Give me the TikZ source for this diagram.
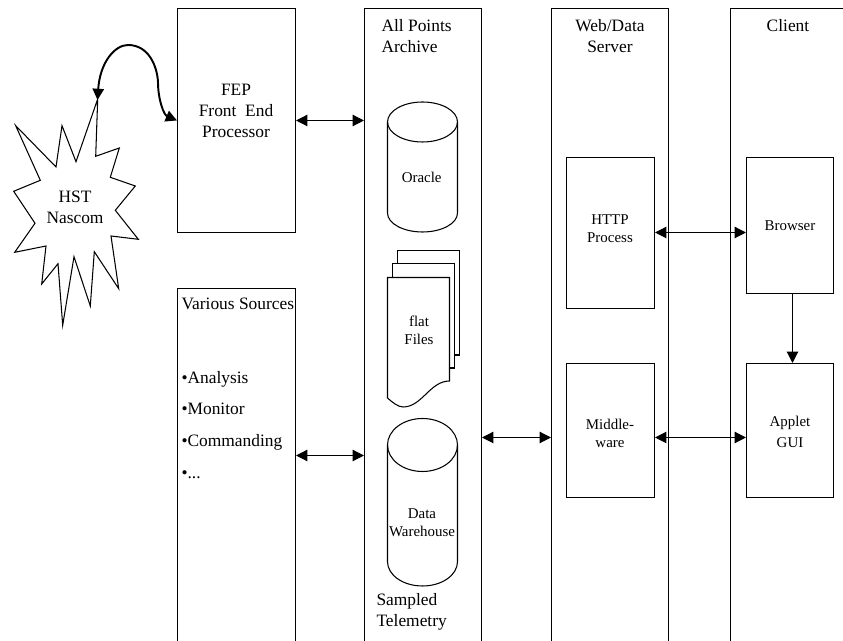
\documentclass[tikz,border=0pt]{standalone}
\usepackage{fontspec}
\setmainfont{Liberation Serif}
\usetikzlibrary{arrows.meta}
\begin{document}
\begin{tikzpicture}[
    x = 0.02cm,
    y = -0.02cm,
    line width = 0.6pt,
    box/.style = {
        rectangle,
        draw = black,
        inner sep = 0pt
    },
    bigtext/.style = {
        align = center,
        inner sep = 0pt,
        font = \fontsize{9.9}{11.9}\selectfont
    },
    smalltext/.style = {
        align = center,
        inner sep = 0pt,
        font = \fontsize{8.5}{10.3}\selectfont
    },
    arrow/.style = {
        <->,
        >={Triangle[length=6.4pt,width=6.4pt]},
        line width = 0.7pt
    }
]
    \useasboundingbox (0,0) rectangle (843,641);

    % Nodes
    \node [box, minimum width = 2.36cm, minimum height = 4.48cm] (fep) at (236.5,120.5) {};
    \node [box, minimum width = 2.36cm, minimum height = 7.43cm] (various) at (236.5,474.25) {};
    \node [box, minimum width = 2.34cm, minimum height = 13.03cm] (archive) at (423,334.25) {};
    \node [box, minimum width = 2.34cm, minimum height = 13.03cm] (server) at (610,334.25) {};
    \node [box, minimum width = 2.36cm, minimum height = 13.03cm] (client) at (789.5,334.25) {};
    \node [box, minimum width = 1.76cm, minimum height = 3.02cm] (http) at (610.5,233) {};
    \node [box, minimum width = 1.76cm, minimum height = 2.68cm] (middle) at (610.5,430.5) {};
    \node [box, minimum width = 1.74cm, minimum height = 2.72cm] (browser) at (790,225.5) {};
    \node [box, minimum width = 1.74cm, minimum height = 2.68cm] (applet) at (790,430.5) {};

    % Cylinders
    \draw (422.5,122) ellipse [x radius = 35, y radius = 20];
    \draw (387.5,122) -- (387.5,213) arc [start angle = 180, end angle = 0, x radius = 35, y radius = 19] -- (457.5,122);
    \draw (422.5,445) ellipse [x radius = 35, y radius = 26.5];
    \draw (387.5,445) -- (387.5,561.7) arc [start angle = 180, end angle = 0, x radius = 35, y radius = 24.3] -- (457.5,445);

    % Star
    \draw (97.7,99) -- (76,161.7) -- (62,125.7) -- (56,167) -- (15.7,125.7)
        -- (40.3,180.3) -- (13.7,191.3) -- (35,223.3) -- (14.7,252.3) -- (46,246)
        -- (41.7,284) -- (58,263.7) -- (62.7,325.3) -- (74,256.7) -- (90.3,306)
        -- (94.3,251.7) -- (118.7,288.7) -- (111,236) -- (138.3,239.3) -- (115.3,210.3)
        -- (135.3,186) -- (110.3,177.3) -- (119.3,148) -- (95.7,156.3) -- cycle;
    \coordinate (tip) at (97.5,100);

    % Flat files
    \draw (397.5,263.5) -- (397.5,250.5) -- (459.5,250.5) -- (459.5,355) -- (454.5,355);
    \draw (392.5,277.5) -- (392.5,263.5) -- (454.5,263.5) -- (454.5,368) -- (449.5,368);
    \draw (387.5,277.5) -- (449.5,277.5) -- (449.5,381)
        .. controls (430,381) and (422,407) .. (403,407)
        .. controls (398,407) and (392,402) .. (387.5,398) -- cycle;

    % Labels
    \node [bigtext] (feptext) at (236,111) {FEP\\Front\ \ End\\Processor};
    \node [bigtext] (star) at (75,207.5) {HST\\Nascom};
    \node [bigtext, anchor = base west] (sources) at (181,309.3) {Various Sources};
    \node [bigtext, anchor = base west] (analysis) at (181,383.3) {•Analysis};
    \node [bigtext, anchor = base west] (monitor) at (181,415) {•Monitor};
    \node [bigtext, anchor = base west] (commanding) at (181,446.7) {•Commanding};
    \node [bigtext, anchor = base west] (dots) at (181,479) {•...};
    \node [bigtext, align = left, anchor = west] (points) at (381,36) {All Points\\Archive};
    \node [bigtext, align = left, anchor = west] (sampled) at (376,611.5) {Sampled\\Telemetry};
    \node [bigtext] (webdata) at (610,36) {Web/Data\\Server};
    \node [bigtext] (clienttext) at (788,26) {Client};
    \node [smalltext] (oracletext) at (421.7,177) {Oracle};
    \node [smalltext] (flat) at (419,330) {flat\\Files};
    \node [smalltext] (data) at (422,523) {Data\\Warehouse};
    \node [smalltext] (httptext) at (610,229) {HTTP\\Process};
    \node [smalltext] (middletext) at (610,433) {Middle-\\ware};
    \node [smalltext] (browsertext) at (790,226) {Browser};
    \node [smalltext, font = \fontsize{8.5}{11.9}\selectfont] (applettext) at (790,431.5) {Applet\\GUI};

    % Arrows
    \coordinate (low) at (0,455.5);
    \coordinate (mid) at (0,437.5);
    \coordinate (top) at (0,232.5);
    \coordinate (down) at (792.5,0);
    \draw [arrow] (fep.east) -- (fep.east -| archive.west);
    \draw [arrow] (various.east |- low) -- (archive.west |- low);
    \draw [arrow] (archive.east |- mid) -- (server.west |- mid);
    \draw [arrow] (middle.east |- mid) -- (applet.west |- mid);
    \draw [arrow] (http.east |- top) -- (browser.west |- top);
    \draw [arrow, <-] (down |- applet.north) -- (down |- browser.south);
    \draw [arrow, line width = 1.1pt] (tip)
        .. controls (100,62) and (115,45) .. (128,45)
        .. controls (148,45) and (157,65) .. (158,82)
        .. controls (158,100) and (164,115) .. (fep.west);
\end{tikzpicture}
\end{document}
